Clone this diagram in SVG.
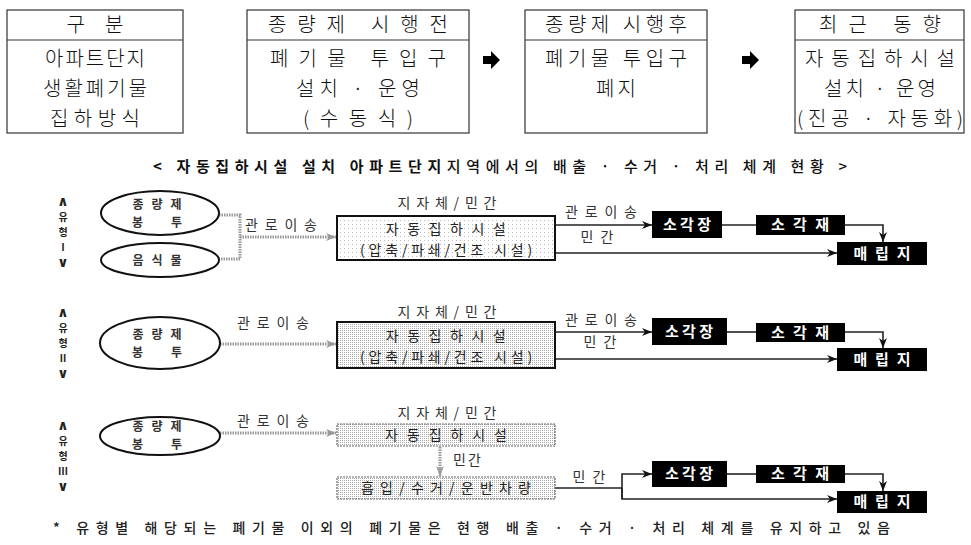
<svg xmlns="http://www.w3.org/2000/svg" width="971" height="545" viewBox="0 0 971 545">
<style>
.tb{fill:#fff;stroke:#333;stroke-width:1.2}
.tt{font-family:"Noto Sans CJK KR","Noto Sans",sans-serif;font-size:20px;font-weight:300;fill:#111;text-anchor:middle}
.lb{font-family:"Noto Sans CJK KR","Noto Sans",sans-serif;font-size:14px;fill:#333;text-anchor:middle}
.et{font-family:"Noto Sans CJK KR","Noto Sans",sans-serif;font-size:12px;font-weight:700;fill:#333;text-anchor:middle;letter-spacing:8px}
.bx{font-family:"Noto Sans CJK KR","Noto Sans",sans-serif;font-size:14px;fill:#222;text-anchor:middle}
.wt{font-family:"Noto Sans CJK KR","Noto Sans",sans-serif;font-size:15px;font-weight:700;fill:#fff;text-anchor:middle}
.vt{font-family:"Noto Sans CJK KR",sans-serif;font-size:10px;font-weight:700;fill:#222;text-anchor:middle}
.dv{font-family:"DejaVu Sans",sans-serif;font-size:14px}
.el{fill:#fff;stroke:#111;stroke-width:2}
.blk{fill:#000}
.ln{fill:none;stroke:#222;stroke-width:1.6}
.gl{fill:none;stroke:#999;stroke-width:3;stroke-dasharray:1.5 1}
.b1{fill:url(#dotsLight);stroke:#111;stroke-width:2}
.b2{fill:url(#dotsDense);stroke:#111;stroke-width:2}
.b3{fill:url(#dotsDense);stroke:#666;stroke-width:1.2;stroke-dasharray:2 1}
.s8{letter-spacing:8.5px}
.s4{letter-spacing:3.8px}
</style>
<defs>
<pattern id="dotsLight" width="4" height="4" patternUnits="userSpaceOnUse"><rect width="4" height="4" fill="#fff"/><rect width="1" height="1" fill="#bbb"/></pattern>
<pattern id="dotsDense" width="2" height="2" patternUnits="userSpaceOnUse"><rect width="2" height="2" fill="#fff"/><rect width="1" height="1" fill="#aaa"/></pattern>
<marker id="ab" markerWidth="10" markerHeight="8" refX="10" refY="4" orient="auto" markerUnits="userSpaceOnUse"><path d="M0,0 L10,4 L0,8 L3,4 z" fill="#111"/></marker>
<marker id="ag" markerWidth="10" markerHeight="8" refX="10" refY="4" orient="auto" markerUnits="userSpaceOnUse"><path d="M0,0 L10,4 L0,8 L3,4 z" fill="#999"/></marker>
</defs>
<rect width="971" height="545" fill="#fff"/>

<!-- top tables -->
<g id="table1">
<rect class="tb" x="7" y="10" width="176" height="123"/>
<line x1="7" y1="40" x2="183" y2="40" stroke="#333" stroke-width="1.2"/>
<text class="tt" x="95" y="32">구　분</text>
<text class="tt" x="95" y="66" textLength="100" lengthAdjust="spacing">아파트단지</text>
<text class="tt" x="95" y="96" textLength="104" lengthAdjust="spacing">생활폐기물</text>
<text class="tt" x="95" y="126" textLength="90" lengthAdjust="spacing">집하방식</text>
</g>
<g id="table2">
<rect class="tb" x="247" y="10" width="222" height="123"/>
<line x1="247" y1="40" x2="469" y2="40" stroke="#333" stroke-width="1.2"/>
<text class="tt" x="358" y="32" textLength="180" lengthAdjust="spacing">종량제 시행전</text>
<text class="tt" x="358" y="66" textLength="176" lengthAdjust="spacing">폐기물 투입구</text>
<text class="tt" x="358" y="96" textLength="124" lengthAdjust="spacing">설치 · 운영</text>
<text class="tt" x="358" y="126" textLength="110" lengthAdjust="spacing">(수동식)</text>
</g>
<g id="table3">
<rect class="tb" x="525" y="10" width="182" height="123"/>
<line x1="525" y1="40" x2="707" y2="40" stroke="#333" stroke-width="1.2"/>
<text class="tt" x="616" y="32" textLength="142" lengthAdjust="spacing">종량제 시행후</text>
<text class="tt" x="616" y="66" textLength="142" lengthAdjust="spacing">폐기물 투입구</text>
<text class="tt" x="616" y="96" textLength="40" lengthAdjust="spacing">폐지</text>
</g>
<g id="table4">
<rect class="tb" x="795" y="10" width="169" height="123"/>
<line x1="795" y1="40" x2="964" y2="40" stroke="#333" stroke-width="1.2"/>
<text class="tt" x="880" y="32" textLength="122" lengthAdjust="spacing">최근 동향</text>
<text class="tt" x="880" y="66" textLength="150" lengthAdjust="spacing">자동집하시설</text>
<text class="tt" x="880" y="96" textLength="112" lengthAdjust="spacing">설치 · 운영</text>
<text class="tt" x="880" y="126" textLength="166" lengthAdjust="spacing">(진공 · 자동화)</text>
</g>
<g id="topArrows">
<path class="blk" d="M483,56 H491 V51 L500,60 L491,69 V64 H483 z"/>
<path class="blk" d="M742,56 H750 V51 L759,60 L750,69 V64 H742 z"/>
</g>

<!-- title -->
<text x="500" y="172" text-anchor="middle" textLength="694" lengthAdjust="spacing" font-family="'Noto Sans CJK KR','Noto Sans',sans-serif" font-size="15" fill="#111"><tspan font-weight="700">&lt; 자동집하시설 설치 아파트단지</tspan><tspan font-weight="500">지역에서의 배출 · 수거 · 처리 체계 현황 &gt;</tspan></text>

<!-- vertical labels -->
<g id="labelI"><text class="vt"><tspan class="dv" x="63" y="205.5">∧</tspan><tspan x="63" y="220.8">유</tspan><tspan x="63" y="235.8">형</tspan><tspan x="63" y="250.7">Ⅰ</tspan><tspan class="dv" x="63" y="267">∨</tspan></text></g>
<g id="labelII"><text class="vt"><tspan class="dv" x="63" y="316.5">∧</tspan><tspan x="63" y="331.8">유</tspan><tspan x="63" y="346.8">형</tspan><tspan x="63" y="361.7">Ⅱ</tspan><tspan class="dv" x="63" y="378">∨</tspan></text></g>
<g id="labelIII"><text class="vt"><tspan class="dv" x="63" y="429.5">∧</tspan><tspan x="63" y="444.8">유</tspan><tspan x="63" y="459.8">형</tspan><tspan x="63" y="474.7">Ⅲ</tspan><tspan class="dv" x="63" y="491">∨</tspan></text></g>

<!-- connectors -->
<g id="connectors">
<path class="gl" d="M219,215 H240 V259 H219"/>
<path class="gl" d="M240,237 H336" marker-end="url(#ag)"/>
<path class="gl" d="M220,344 H336" marker-end="url(#ag)"/>
<path class="gl" d="M220,433 H336" marker-end="url(#ag)"/>
<path class="gl" d="M440,447 V476" marker-end="url(#ag)"/>
<path class="ln" d="M555,225 H652" marker-end="url(#ab)"/>
<path class="ln" d="M722,225 H756"/>
<path class="ln" d="M845,225 H883 V242" marker-end="url(#ab)"/>
<path class="ln" d="M555,253 H837" marker-end="url(#ab)"/>
<path class="ln" d="M555,332 H652" marker-end="url(#ab)"/>
<path class="ln" d="M727,332 H756"/>
<path class="ln" d="M845,332 H883 V348" marker-end="url(#ab)"/>
<path class="ln" d="M555,359 H837" marker-end="url(#ab)"/>
<path class="ln" d="M555,488 H622"/>
<path class="ln" d="M622,499 V474 H652" marker-end="url(#ab)"/>
<path class="ln" d="M622,488 V499 H837" marker-end="url(#ab)"/>
<path class="ln" d="M727,474 H756"/>
<path class="ln" d="M845,474 H883 V491" marker-end="url(#ab)"/>
<text class="lb" x="281" y="230" textLength="72" lengthAdjust="spacing">관로이송</text>
<text class="lb" x="601" y="217" textLength="72" lengthAdjust="spacing">관로이송</text>
<text class="lb" x="597" y="242" textLength="33" lengthAdjust="spacing">민간</text>
<text class="lb" x="273" y="328" textLength="72" lengthAdjust="spacing">관로이송</text>
<text class="lb" x="601" y="325" textLength="72" lengthAdjust="spacing">관로이송</text>
<text class="lb" x="600" y="347" textLength="33" lengthAdjust="spacing">민간</text>
<text class="lb" x="273" y="426" textLength="72" lengthAdjust="spacing">관로이송</text>
<text class="lb" x="467" y="465" textLength="28" lengthAdjust="spacing">민간</text>
<text class="lb" x="589" y="482" textLength="33" lengthAdjust="spacing">민간</text>
</g>

<!-- Type I -->
<g id="I-bag">
<ellipse class="el" cx="160" cy="213" rx="59" ry="22"/>
<text class="et"><tspan x="161" y="209">종량제</tspan><tspan x="161" y="226.5">봉　투</tspan></text>
</g>
<g id="I-food">
<ellipse class="el" cx="160" cy="260" rx="59" ry="17"/>
<text class="et" x="161" y="264.5">음식물</text>
</g>
<g id="I-facility">
<text class="lb" x="447" y="208" textLength="99" lengthAdjust="spacing">지자체/민간</text>
<rect class="b1" x="337" y="216" width="218" height="44"/>
<text class="bx"><tspan class="s8" x="450" y="233.5">자동집하시설</tspan><tspan class="s4" x="448" y="254.5">(압축/파쇄/건조 시설)</tspan></text>
</g>
<g id="I-incinerator"><rect class="blk" x="652" y="211" width="70" height="27"/><text class="wt" x="687" y="230" textLength="48" lengthAdjust="spacing">소각장</text></g>
<g id="I-ash"><rect class="blk" x="756" y="215" width="89" height="20"/><text class="wt" x="800" y="230" textLength="58" lengthAdjust="spacing">소각재</text></g>
<g id="I-landfill"><rect class="blk" x="837" y="242" width="90" height="23"/><text class="wt" x="882" y="259" textLength="57" lengthAdjust="spacing">매립지</text></g>

<!-- Type II -->
<g id="II-bag">
<ellipse class="el" cx="160" cy="343" rx="60" ry="26"/>
<text class="et"><tspan x="161" y="339">종량제</tspan><tspan x="161" y="356.5">봉　투</tspan></text>
</g>
<g id="II-facility">
<text class="lb" x="447" y="317" textLength="99" lengthAdjust="spacing">지자체/민간</text>
<rect class="b2" x="337" y="322" width="218" height="46"/>
<text class="bx"><tspan class="s8" x="450" y="341">자동집하시설</tspan><tspan class="s4" x="448" y="362">(압축/파쇄/건조 시설)</tspan></text>
</g>
<g id="II-incinerator"><rect class="blk" x="652" y="318" width="75" height="27"/><text class="wt" x="689" y="337" textLength="48" lengthAdjust="spacing">소각장</text></g>
<g id="II-ash"><rect class="blk" x="756" y="323" width="89" height="19"/><text class="wt" x="800" y="338" textLength="58" lengthAdjust="spacing">소각재</text></g>
<g id="II-landfill"><rect class="blk" x="837" y="348" width="90" height="23"/><text class="wt" x="882" y="365" textLength="57" lengthAdjust="spacing">매립지</text></g>

<!-- Type III -->
<g id="III-bag">
<ellipse class="el" cx="160" cy="436" rx="60" ry="19"/>
<text class="et"><tspan x="161" y="431">종량제</tspan><tspan x="161" y="448.5">봉　투</tspan></text>
</g>
<g id="III-facility">
<text class="lb" x="447" y="418" textLength="99" lengthAdjust="spacing">지자체/민간</text>
<rect class="b3" x="337" y="424" width="218" height="22"/>
<text class="bx" x="446" y="440" textLength="122" lengthAdjust="spacing">자동집하시설</text>
</g>
<g id="III-vehicle">
<rect class="b3" x="337" y="477" width="218" height="22"/>
<text class="bx" x="446" y="493" textLength="170" lengthAdjust="spacing">흡입/수거/운반차량</text>
</g>
<g id="III-incinerator"><rect class="blk" x="652" y="461" width="75" height="26"/><text class="wt" x="689" y="479" textLength="48" lengthAdjust="spacing">소각장</text></g>
<g id="III-ash"><rect class="blk" x="756" y="465" width="89" height="18"/><text class="wt" x="800" y="479" textLength="58" lengthAdjust="spacing">소각재</text></g>
<g id="III-landfill"><rect class="blk" x="837" y="491" width="90" height="22"/><text class="wt" x="882" y="507" textLength="57" lengthAdjust="spacing">매립지</text></g>

<!-- footnote -->
<text x="53" y="533" textLength="837" lengthAdjust="spacing" font-family="'Noto Sans CJK KR','Noto Sans',sans-serif" font-size="14" font-weight="500" fill="#222">* 유형별 해당되는 폐기물 이외의 폐기물은  현행 배출 · 수거 · 처리 체계를 유지하고 있음</text>
</svg>
